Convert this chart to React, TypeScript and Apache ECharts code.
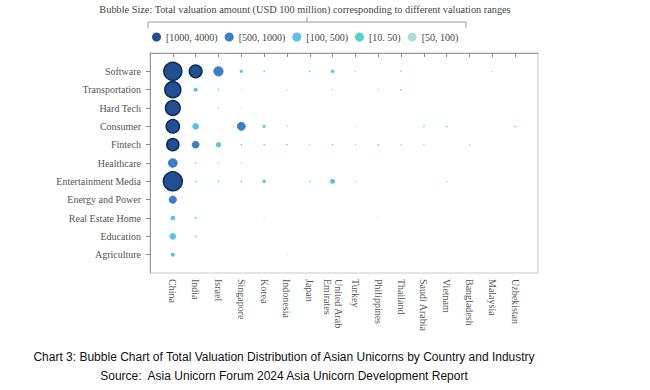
import React, { useEffect, useRef } from "react";
import * as echarts from "echarts";

const countries = [
  "China", "India", "Israel", "Singapore", "Korea", "Indonesia", "Japan",
  "United Arab\nEmirates", "Turkey", "Philippines", "Thailand", "Saudi Arabia",
  "Vietnam", "Bangladesh", "Malaysia", "Uzbekistan",
];
const industries = [
  "Software", "Transportation", "Hard Tech", "Consumer", "Fintech", "Healthcare",
  "Entertainment Media", "Energy and Power", "Real Estate Home", "Education", "Agriculture",
];

// Total valuation (USD 100 million) per country, one array per industry (0 = none)
const software = [3600, 1790, 960, 120, 25, 0, 25, 135, 12, 0, 20, 0, 0, 0, 15, 0];
const transportation = [2850, 180, 25, 12, 0, 12, 0, 15, 0, 12, 30, 0, 0, 0, 0, 0];
const hardTech = [2400, 0, 12, 12, 0, 0, 0, 0, 0, 0, 0, 0, 0, 0, 0, 0];
const consumer = [1970, 480, 0, 710, 105, 15, 0, 0, 10, 0, 0, 25, 25, 0, 0, 25];
const fintech = [1600, 520, 310, 25, 25, 25, 12, 25, 12, 25, 15, 15, 0, 10, 0, 0];
const healthcare = [840, 25, 12, 12, 0, 0, 0, 0, 0, 0, 0, 0, 0, 0, 0, 0];
const entertainment = [3950, 25, 25, 25, 135, 0, 25, 280, 10, 0, 0, 0, 20, 0, 0, 0];
const energy = [590, 0, 0, 0, 0, 0, 0, 0, 0, 0, 0, 0, 0, 0, 0, 0];
const realEstate = [245, 45, 0, 0, 12, 0, 0, 0, 0, 12, 0, 0, 0, 0, 0, 0];
const education = [490, 70, 0, 0, 0, 0, 0, 0, 0, 0, 0, 0, 0, 0, 0, 0];
const agriculture = [180, 0, 0, 0, 0, 12, 0, 0, 0, 0, 0, 0, 0, 0, 0, 0];

const industryValues = [
  software, transportation, hardTech, consumer, fintech, healthcare,
  entertainment, energy, realEstate, education, agriculture,
];

const rangeNames = ["[1000, 4000)", "[500, 1000)", "[100, 500)", "[10. 50)", "[50, 100)"];
const rangeBounds: [number, number][] = [[1000, 4001], [500, 1000], [100, 500], [0, 50], [50, 100]];
const rangeColors = ["#214f8f", "#3a80c8", "#5cbfe9", "#4fd3cc", "#b1dad8"];
const rangeBorders = ["#0c2a5c", "#2f6fb3", "#5cbfe9", "#4fd3cc", "#b1dad8"];

const SERIF = "'Liberation Serif', 'DejaVu Serif', serif";
const SANS = "'Liberation Sans', Arial, sans-serif";

export default function App() {
  const ref = useRef<HTMLDivElement>(null);
  useEffect(() => {
    if (!ref.current) return;
    const chart = echarts.init(ref.current, undefined, { renderer: "svg" });

    const series = rangeNames.map((name, ri) => {
      const [lo, hi] = rangeBounds[ri];
      const data: number[][] = [];
      industryValues.forEach((vals, yi) => {
        vals.forEach((v, xi) => {
          if (v > 0 && v >= lo && v < hi) data.push([xi + 1, yi + 1, v]);
        });
      });
      return {
        name,
        type: "scatter",
        data,
        symbol: "circle",
        symbolSize: (val: number[]) => 0.3 * Math.sqrt(val[2]),
        itemStyle: {
          color: rangeColors[ri],
          borderColor: rangeBorders[ri],
          borderWidth: ri === 0 ? 1.5 : ri === 1 ? 0.8 : 0,
          opacity: 1,
        },
        z: 10 - ri,
      };
    });

    const ticksX = countries.map((_, i) => i + 1);
    const ticksY = industries.map((_, i) => i + 1);

    chart.setOption({
      animation: false,
      backgroundColor: "#ffffff",
      grid: {
        left: 150, right: 112, top: 53, bottom: 117,
        show: true, borderColor: "#c8c8c8", borderWidth: 1,
      },
      legend: {
        data: rangeNames.map((n, i) => ({ name: n, itemStyle: { color: rangeColors[i], borderColor: rangeBorders[i], borderWidth: 0 } })),
        left: 152,
        top: 32,
        padding: 0,
        icon: "circle",
        itemWidth: 9,
        itemHeight: 9,
        itemGap: 7,
        textStyle: { fontFamily: SERIF, fontSize: 10, color: "#444" },
      },
      xAxis: {
        type: "value",
        min: 0, max: 17, interval: 1,
        splitLine: { show: false },
        axisLine: { show: true, lineStyle: { color: "#999" } },
        axisTick: { show: true, customValues: ticksX, length: 4, lineStyle: { color: "#888" } },
        axisLabel: {
          customValues: ticksX,
          rotate: -90,
          margin: 6,
          fontFamily: SERIF,
          fontSize: 10,
          color: "#555",
          lineHeight: 11,
          formatter: (v: number) => countries[Math.round(v) - 1] ?? "",
        },
      },
      yAxis: {
        type: "value",
        min: 0, max: 12, interval: 1,
        inverse: true,
        splitLine: { show: false },
        axisLine: { show: true, lineStyle: { color: "#999" } },
        axisTick: { show: true, customValues: ticksY, length: 4, lineStyle: { color: "#888" } },
        axisLabel: {
          customValues: ticksY,
          margin: 9,
          fontFamily: SERIF,
          fontSize: 10,
          color: "#555",
          formatter: (v: number) => industries[Math.round(v) - 1] ?? "",
        },
      },
      graphic: [
        {
          type: "text", x: 305, y: 4,
          style: {
            text: "Bubble Size: Total valuation amount (USD 100 million) corresponding to different valuation ranges",
            fontFamily: SERIF, fontSize: 10.3, fill: "#444", textAlign: "center",
          },
        },
        {
          type: "polyline",
          shape: { points: [[148, 28], [148, 22], [466, 22], [466, 28]] },
          style: { stroke: "#999", lineWidth: 1, fill: "none" },
        },
        {
          type: "line",
          shape: { x1: 307, y1: 22, x2: 307, y2: 17 },
          style: { stroke: "#999", lineWidth: 1 },
        },
        {
          type: "text", x: 284, y: 351,
          style: {
            text: "Chart 3: Bubble Chart of Total Valuation Distribution of Asian Unicorns by Country and Industry",
            fontFamily: SANS, fontSize: 12, fill: "#111", textAlign: "center",
          },
        },
        {
          type: "text", x: 284, y: 370,
          style: {
            text: "Source:  Asia Unicorn Forum 2024 Asia Unicorn Development Report",
            fontFamily: SANS, fontSize: 12, fill: "#111", textAlign: "center",
          },
        },
      ],
      series,
    });
    return () => chart.dispose();
  }, []);
  return (
    <div
      ref={ref}
      style={{ position: "fixed", left: 0, top: 0, width: 650, height: 390, background: "#fff" }}
    />
  );
}
